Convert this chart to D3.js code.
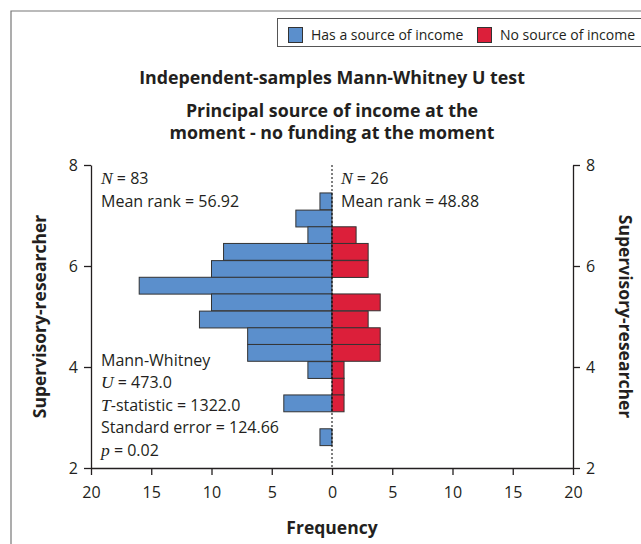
<!DOCTYPE html>
<html>
<head>
<meta charset="utf-8">
<script src="https://cdn.jsdelivr.net/npm/d3@7"></script>
<style>
  body { margin: 0; background: #fff; }
  svg { display: block; font-family: "Open Sans", sans-serif; }
</style>
</head>
<body>
<div class="chart"></div>
<script>
// Chart parameters
const width = 641;
const height = 544;

// bin centres (supervisory-researcher score), bin width 1/3
const binCenters = [7.28, 6.94, 6.61, 6.28, 5.94, 5.61, 5.28, 4.94, 4.61, 4.28, 3.94, 3.61, 3.28, 2.94, 2.61];
const binWidth = 1 / 3;
const hasIncome = [1, 3, 2, 9, 10, 16, 10, 11, 7, 7, 2, 0, 4, 0, 1];
const noIncome = [0, 0, 2, 3, 3, 0, 4, 3, 4, 4, 1, 1, 1, 0, 0];

const seriesNames = ['Has a source of income', 'No source of income'];
const seriesColors = ['#5b8fcc', '#dc1f3a'];

const xTicksLeft = [20, 15, 10, 5, 0];
const xTicksRight = [5, 10, 15, 20];
const yTicks = [2, 4, 6, 8];

const textColor = '#231f20';

const svg = d3.select('.chart')
  .append('svg')
  .attr('width', width)
  .attr('height', height);

// outer frame
svg.append('path')
  .attr('d', `M11,${height} V11 H${width}`)
  .attr('fill', 'none')
  .attr('stroke', '#777')
  .attr('stroke-width', 1.2);

// legend
const legend = svg.append('g');
legend.append('rect')
  .attr('x', 277.5).attr('y', 18.5)
  .attr('width', 400).attr('height', 28)
  .attr('fill', 'none').attr('stroke', '#555');
const legendX = [288, 477];
seriesNames.forEach((name, i) => {
  legend.append('rect')
    .attr('x', legendX[i] + 0.5).attr('y', 27.5)
    .attr('width', 14).attr('height', 15)
    .attr('fill', seriesColors[i]).attr('stroke', '#333');
  legend.append('text')
    .attr('x', legendX[i] + 23).attr('y', 35)
    .attr('dy', '0.35em')
    .attr('font-size', 14)
    .attr('fill', textColor)
    .text(name);
});

// titles
const titles = [
  { t: 'Independent-samples Mann-Whitney U test', y: 78 },
  { t: 'Principal source of income at the', y: 111 },
  { t: 'moment - no funding at the moment', y: 133 }
];
svg.append('g')
  .selectAll('text')
  .data(titles)
  .join('text')
    .attr('x', 332)
    .attr('y', d => d.y)
    .attr('dy', '0.35em')
    .attr('text-anchor', 'middle')
    .attr('font-size', 17.8)
    .attr('font-weight', 'bold')
    .attr('fill', textColor)
    .text(d => d.t);

// scales
const xLeft = d3.scaleLinear().domain([20, 0]).range([91, 332]);
const xRight = d3.scaleLinear().domain([0, 20]).range([332, 573]);
const y = d3.scaleLinear().domain([2, 8]).range([468, 165]);

const bins = binCenters.map((c, i) => ({ c, a: hasIncome[i], b: noIncome[i] }));

// blue bars (left)
svg.append('g')
  .selectAll('rect')
  .data(bins.filter(d => d.a > 0))
  .join('rect')
    .attr('x', d => xLeft(d.a))
    .attr('y', d => y(d.c + binWidth / 2))
    .attr('width', d => xLeft(0) - xLeft(d.a))
    .attr('height', d => y(d.c - binWidth / 2) - y(d.c + binWidth / 2))
    .attr('fill', seriesColors[0])
    .attr('stroke', '#333')
    .attr('stroke-width', 1);

// red bars (right)
svg.append('g')
  .selectAll('rect')
  .data(bins.filter(d => d.b > 0))
  .join('rect')
    .attr('x', xRight(0))
    .attr('y', d => y(d.c + binWidth / 2))
    .attr('width', d => xRight(d.b) - xRight(0))
    .attr('height', d => y(d.c - binWidth / 2) - y(d.c + binWidth / 2))
    .attr('fill', seriesColors[1])
    .attr('stroke', '#333')
    .attr('stroke-width', 1);

// dotted centre line
svg.append('line')
  .attr('x1', xRight(0)).attr('x2', xRight(0))
  .attr('y1', y(8)).attr('y2', y(2))
  .attr('stroke', '#000')
  .attr('stroke-width', 1)
  .attr('stroke-dasharray', '2,2');

function styleAxis(g) {
  g.attr('font-size', 16).attr('font-family', '"Open Sans", sans-serif');
  g.selectAll('path, line').attr('stroke', textColor).attr('stroke-width', 1.3);
  g.selectAll('text').attr('fill', textColor);
}

const fmt = d3.format('d');

svg.append('g')
  .attr('transform', `translate(0, ${y(2)})`)
  .call(d3.axisBottom(xLeft).tickValues(xTicksLeft).tickFormat(fmt).tickSize(7).tickSizeOuter(0).tickPadding(12))
  .call(styleAxis);

svg.append('g')
  .attr('transform', `translate(0, ${y(2)})`)
  .call(d3.axisBottom(xRight).tickValues(xTicksRight).tickFormat(fmt).tickSize(7).tickSizeOuter(0).tickPadding(12))
  .call(styleAxis);

svg.append('g')
  .attr('transform', `translate(${xLeft(20)}, 0)`)
  .call(d3.axisLeft(y).tickValues(yTicks).tickFormat(fmt).tickSize(7).tickSizeOuter(0).tickPadding(6))
  .call(styleAxis);

svg.append('g')
  .attr('transform', `translate(${xRight(20)}, 0)`)
  .call(d3.axisRight(y).tickValues(yTicks).tickFormat(fmt).tickSize(7).tickSizeOuter(0).tickPadding(6))
  .call(styleAxis);

// axis titles
svg.append('text')
  .attr('transform', `translate(40, ${y(5)}) rotate(-90)`)
  .attr('text-anchor', 'middle')
  .attr('dy', '0.35em')
  .attr('font-size', 17.5)
  .attr('font-weight', 'bold')
  .attr('fill', textColor)
  .text('Supervisory-researcher');

svg.append('text')
  .attr('transform', `translate(625, ${y(5)}) rotate(90)`)
  .attr('text-anchor', 'middle')
  .attr('dy', '0.35em')
  .attr('font-size', 17.5)
  .attr('font-weight', 'bold')
  .attr('fill', textColor)
  .text('Supervisory-researcher');

svg.append('text')
  .attr('x', 332).attr('y', 528)
  .attr('dy', '0.35em')
  .attr('text-anchor', 'middle')
  .attr('font-size', 17.5)
  .attr('font-weight', 'bold')
  .attr('fill', textColor)
  .text('Frequency');

// annotations: [italic part, rest]
const annotLeftTop = [['N', ' = 83'], ['', 'Mean rank = 56.92']];
const annotRightTop = [['N', ' = 26'], ['', 'Mean rank = 48.88']];
const annotStats = [['', 'Mann-Whitney'], ['U', ' = 473.0'], ['T', '-statistic = 1322.0'], ['', 'Standard error = 124.66'], ['p', ' = 0.02']];

function annotate(lines, x, y0, step) {
  lines.forEach((l, i) => {
    const t = svg.append('text')
      .attr('x', x).attr('y', y0 + i * step)
      .attr('dy', '0.35em')
      .attr('font-size', 16)
      .attr('fill', textColor);
    if (l[0]) {
      t.append('tspan')
        .attr('font-family', '"Liberation Serif", serif')
        .attr('font-style', 'italic')
        .attr('font-size', 17.5)
        .text(l[0]);
    }
    t.append('tspan').text(l[1]);
  });
}

annotate(annotLeftTop, 101, 178, 23.5);
annotate(annotRightTop, 341, 178, 23.5);
annotate(annotStats, 101, 360, 22.5);
</script>
</body>
</html>
